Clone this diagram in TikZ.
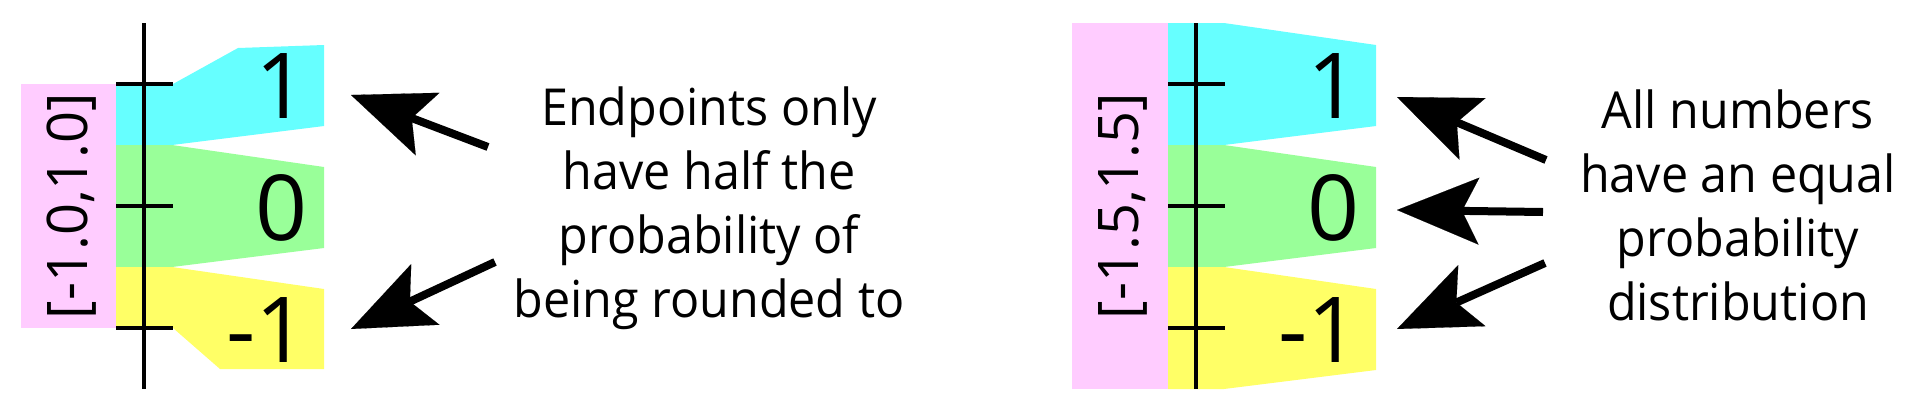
\documentclass[tikz,border=0pt]{standalone}
\usepackage{fontspec}
\setmainfont{Open Sans}
\newfontfamily\notefont[FakeStretch=0.95]{Open Sans}
\usetikzlibrary{arrows.meta}
\definecolor{rangepink}{HTML}{FFCCFF}
\definecolor{bandcyan}{HTML}{66FFFF}
\definecolor{bandgreen}{HTML}{99FF99}
\definecolor{bandyellow}{HTML}{FFFF66}
\begin{document}
\begin{tikzpicture}[x=1pt, y=-1pt]
	\tikzstyle{digit}=[inner sep=0pt, anchor=base east, font=\fontsize{91}{91}\selectfont]
	\tikzstyle{rangelabel}=[inner sep=0pt, rotate=90, font=\fontsize{56}{56}\selectfont]
	\tikzstyle{note}=[inner sep=0pt, align=center, font=\notefont\fontsize{51}{64}\selectfont]
	\tikzstyle{pointer}=[line width=8pt, -{Stealth[length=82pt, width=67pt, inset=17pt, line width=0.1pt]}]
	\tikzstyle{axisline}=[line width=4pt]
	\def\panelsep{1052pt}
	\useasboundingbox (0,0) rectangle (1920,413);
	% left: range [-1,1]
	\fill[rangepink] (21,84) rectangle (116,328);
	\fill[bandcyan] (116,84) -- (173,84) -- (238,48) -- (324,45) -- (324,126) -- (172,145) -- (116,145) -- cycle;
	\fill[bandgreen] (116,145) -- (172,145) -- (324,167) -- (324,248) -- (172,267) -- (116,267) -- cycle;
	\fill[bandyellow] (116,267) -- (172,267) -- (324,289) -- (324,369) -- (220,369) -- (173,328) -- (116,328) -- cycle;
	\draw[axisline] (144,23) -- (144,389);
	\foreach \y in {84,206,328}
		\draw[axisline] (116,\y) -- (173,\y);
	\node[rangelabel] (lrange) at (72,206) {[-1.0,1.0]};
	\node[digit] (lone) at (308,118) {1};
	\node[digit] (lzero) at (308,240) {0};
	\node[digit] (lminus) at (308,362) {-1};
	\node[note] (lnote) at (709,208) {Endpoints only\\have half the\\probability of\\being rounded to};
	\coordinate (ltail1) at (488,147);
	\coordinate (ltip1) at (351,95);
	\coordinate (ltail2) at (495,262);
	\coordinate (ltip2) at (351,329);
	\draw[pointer] (ltail1) -- (ltip1);
	\draw[pointer] (ltail2) -- (ltip2);
	% right: range [-1.5,1.5]
	\begin{scope}[xshift=\panelsep]
		\fill[rangepink] (20,23) rectangle (116,389);
		\fill[bandcyan] (116,23) -- (172,23) -- (324,45) -- (324,126) -- (172,145) -- (116,145) -- cycle;
		\fill[bandgreen] (116,145) -- (172,145) -- (324,167) -- (324,248) -- (172,267) -- (116,267) -- cycle;
		\fill[bandyellow] (116,267) -- (172,267) -- (324,289) -- (324,370) -- (172,389) -- (116,389) -- cycle;
		\draw[axisline] (144,23) -- (144,389);
		\foreach \y in {84,206,328}
			\draw[axisline] (116,\y) -- (173,\y);
		\node[rangelabel] (rrange) at (71,206) {[-1.5,1.5]};
		\node[digit] (rone) at (308,118) {1};
		\node[digit] (rzero) at (308,240) {0};
		\node[digit] (rminus) at (308,362) {-1};
	\end{scope}
	\node[note] (rnote) at (1738,205) {All numbers\\have an equal\\probability\\distribution};
	\coordinate (rtail1) at (1546,160);
	\coordinate (rtip1) at (1397,97);
	\coordinate (rtail2) at (1543,212);
	\coordinate (rtip2) at (1397,210);
	\coordinate (rtail3) at (1545,263);
	\coordinate (rtip3) at (1397,329);
	\draw[pointer] (rtail1) -- (rtip1);
	\draw[pointer] (rtail2) -- (rtip2);
	\draw[pointer] (rtail3) -- (rtip3);
\end{tikzpicture}
\end{document}
